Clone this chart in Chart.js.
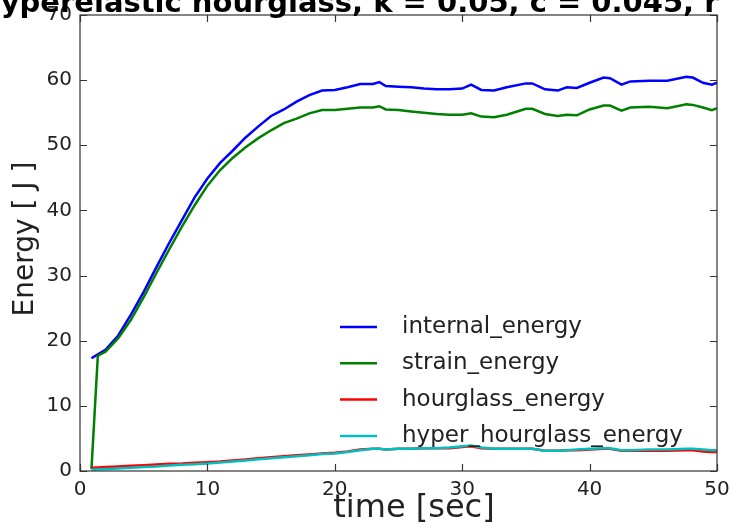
<!DOCTYPE html>
<html>
<head>
<meta charset="utf-8">
<script src="https://cdn.jsdelivr.net/npm/chart.js@4"></script>
<style>
html,body{margin:0;padding:0;background:#fff;}
#wrap{width:731px;height:532px;}
</style>
</head>
<body>
<div id="wrap"><canvas id="energyChart" width="731" height="532"></canvas></div>
<script>
// values
const time = [0.9,1.4,2,3,4,5,6,7,8,9,10,11,12,13,14,15,16,17,18,19,20,21,22,23,23.5,24,25,26,27,28,29,30,30.7,31.5,32.5,33.5,35,35.5,36.5,37.5,38.2,39,40,41.1,41.6,42.5,43.2,44.7,46.1,47.6,48.1,48.9,49.6,50];
const internalEnergy = [17.3,17.9,18.6,20.8,24.0,27.5,31.3,35.0,38.5,42.0,44.9,47.3,49.2,51.2,52.9,54.5,55.5,56.7,57.7,58.4,58.5,58.9,59.4,59.4,59.7,59.1,59.0,58.9,58.7,58.6,58.6,58.7,59.3,58.5,58.4,58.9,59.5,59.5,58.6,58.4,58.9,58.8,59.6,60.4,60.3,59.3,59.8,59.9,59.9,60.5,60.4,59.6,59.3,59.6];
const strainEnergy = [0.3,17.7,18.3,20.4,23.2,26.7,30.4,34.0,37.5,40.8,43.8,46.2,48.1,49.7,51.1,52.3,53.4,54.1,54.9,55.4,55.4,55.6,55.8,55.8,56.0,55.5,55.4,55.2,55.0,54.8,54.7,54.7,54.9,54.4,54.3,54.7,55.6,55.6,54.8,54.5,54.7,54.6,55.5,56.1,56.1,55.3,55.8,55.9,55.7,56.3,56.2,55.8,55.4,55.7];
const hourglassEnergy = [0.5,0.55,0.6,0.7,0.8,0.9,1.0,1.1,1.15,1.25,1.35,1.45,1.6,1.75,1.95,2.1,2.25,2.4,2.55,2.7,2.8,3.0,3.3,3.4,3.4,3.3,3.4,3.4,3.5,3.5,3.5,3.7,3.8,3.5,3.4,3.4,3.4,3.4,3.1,3.1,3.2,3.2,3.3,3.4,3.4,3.1,3.1,3.1,3.1,3.2,3.2,3.0,2.9,2.9];
const hyperHourglassEnergy = [0.2,0.25,0.3,0.4,0.5,0.6,0.7,0.85,0.95,1.05,1.15,1.3,1.45,1.6,1.8,1.95,2.1,2.25,2.4,2.6,2.7,2.9,3.2,3.4,3.4,3.3,3.4,3.4,3.5,3.5,3.6,3.8,3.9,3.6,3.4,3.4,3.4,3.4,3.1,3.1,3.2,3.3,3.4,3.5,3.5,3.2,3.2,3.3,3.3,3.4,3.4,3.3,3.2,3.2];

const xTicks = [0,10,20,30,40,50];
const yTicks = [0,10,20,30,40,50,60,70];
const seriesNames = ["internal_energy","strain_energy","hourglass_energy","hyper_hourglass_energy"];
const seriesColors = ["#0000ff","#008000","#ff0000","#00bfbf"];
const titleText = "hyperelastic hourglass, k = 0.05, c = 0.045, r = 0.1";
const xLabel = "time [sec]";
const yLabel = "Energy [ J ]";

const series = [internalEnergy, strainEnergy, hourglassEnergy, hyperHourglassEnergy];
const points = s => s.map((v, i) => ({x: time[i], y: v}));

// frame, inward ticks on all four sides, legend, axis labels, clipped title
const decor = {
  id: "decor",
  afterDraw(chart) {
    const {ctx, chartArea: a, scales: {x, y}} = chart;
    ctx.save();
    ctx.strokeStyle = "#333";
    ctx.lineWidth = 1.2;
    ctx.strokeRect(a.left, a.top, a.right - a.left, a.bottom - a.top);
    ctx.beginPath();
    xTicks.forEach(v => {
      const px = Math.round(x.getPixelForValue(v)) + 0.5;
      ctx.moveTo(px, a.bottom); ctx.lineTo(px, a.bottom - 7);
      ctx.moveTo(px, a.top); ctx.lineTo(px, a.top + 7);
    });
    yTicks.forEach(v => {
      const py = Math.round(y.getPixelForValue(v)) + 0.5;
      ctx.moveTo(a.left, py); ctx.lineTo(a.left + 7, py);
      ctx.moveTo(a.right, py); ctx.lineTo(a.right - 7, py);
    });
    ctx.stroke();

    // legend
    ctx.font = "23px 'DejaVu Sans'";
    ctx.textBaseline = "middle";
    ctx.fillStyle = "#222";
    seriesNames.forEach((name, i) => {
      const ly = 327 + i * 36.3;
      ctx.strokeStyle = seriesColors[i];
      ctx.lineWidth = 2.5;
      ctx.beginPath(); ctx.moveTo(340, ly); ctx.lineTo(377, ly); ctx.stroke();
      ctx.fillText(name, 402, ly);
    });

    // axis labels
    ctx.textAlign = "center";
    ctx.textBaseline = "alphabetic";
    ctx.font = "32px 'DejaVu Sans'";
    ctx.fillText(xLabel, 414, 517);
    ctx.save();
    ctx.translate(33, 239);
    ctx.rotate(-Math.PI / 2);
    ctx.font = "28px 'DejaVu Sans'";
    ctx.fillText(yLabel, 0, 0);
    ctx.restore();

    // title, only its lower part is inside the picture
    ctx.textAlign = "left";
    ctx.font = "bold 29px 'DejaVu Sans'";
    ctx.fillStyle = "#000";
    ctx.fillText(titleText, -20, 12);
    ctx.restore();
  }
};

new Chart(document.getElementById("energyChart"), {
  type: "line",
  data: {
    datasets: series.map((s, i) => ({
      label: seriesNames[i],
      data: points(s),
      borderColor: seriesColors[i],
      borderWidth: 2.5,
      pointRadius: 0,
      tension: 0,
      fill: false,
      order: 3 - i
    }))
  },
  options: {
    responsive: false,
    animation: false,
    layout: {padding: {top: 15, right: 14, left: 0, bottom: 0}},
    plugins: {legend: {display: false}, title: {display: false}, tooltip: {enabled: false}},
    scales: {
      x: {
        type: "linear", min: 0, max: 50,
        afterBuildTicks: ax => { ax.ticks = xTicks.map(v => ({value: v})); },
        afterFit: ax => { ax.height = 61; ax.paddingLeft = 0; ax.paddingRight = 0; },
        grid: {display: false, drawTicks: false},
        border: {display: false},
        ticks: {color: "#222", padding: 7, font: {family: "DejaVu Sans", size: 20}}
      },
      y: {
        type: "linear", min: 0, max: 70,
        afterBuildTicks: ax => { ax.ticks = yTicks.map(v => ({value: v})); },
        afterFit: ax => { ax.width = 80; ax.paddingTop = 0; ax.paddingBottom = 0; },
        grid: {display: false, drawTicks: false},
        border: {display: false},
        ticks: {color: "#222", padding: 8, font: {family: "DejaVu Sans", size: 20}}
      }
    }
  },
  plugins: [decor]
});
</script>
</body>
</html>
